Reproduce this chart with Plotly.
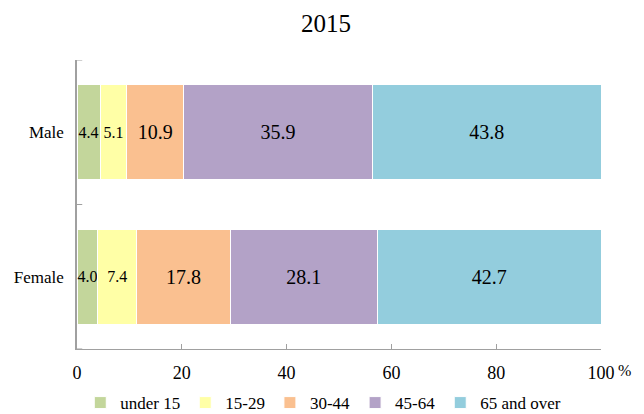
import plotly.graph_objects as go

categories = ["Female", "Male"]
age_groups = ["under 15", "15-29", "30-44", "45-64", "65 and over"]
male = [4.4, 5.1, 10.9, 35.9, 43.8]
female = [4.0, 7.4, 17.8, 28.1, 42.7]
colors = ["#c3d69b", "#ffffa6", "#fac090", "#b3a2c7", "#93cddd"]
x_ticks = [0, 20, 40, 60, 80, 100]

FONT = "Liberation Serif, Times New Roman, serif"

fig = go.Figure()
for i, g in enumerate(age_groups):
    vals = [female[i], male[i]]
    size = 16 if i < 2 else 20
    fig.add_trace(go.Bar(
        y=categories, x=vals, name=g, orientation="h",
        marker=dict(color=colors[i], line=dict(color="white", width=1)),
        text=[f"{v:.1f}" for v in vals], textposition="inside", textangle=0,
        insidetextanchor="middle", constraintext="none",
        textfont=dict(family=FONT, size=size, color="black"),
        width=0.66, hoverinfo="skip",
    ))

# page body has an 8px margin; figure is sized to compensate
fig.update_layout(
    barmode="stack",
    width=636, height=406,
    margin=dict(l=69, r=43, t=52, b=65, autoexpand=False),
    paper_bgcolor="white", plot_bgcolor="white",
    font=dict(family=FONT, color="black"),
    title=dict(text="2015", x=0.5, xanchor="center", y=0.962, yanchor="middle",
               font=dict(family=FONT, size=25, color="black")),
    showlegend=True,
    legend=dict(orientation="h", x=0.47, xanchor="center", y=-0.187, yanchor="middle",
                font=dict(family=FONT, size=17, color="black"), traceorder="normal",
                itemwidth=30),
    xaxis=dict(range=[0, 100], tickvals=x_ticks, ticks="inside", ticklen=5,
               tickcolor="#a0a0a0", showline=True, linecolor="#a0a0a0", linewidth=1,
               showgrid=False, zeroline=False, tickfont=dict(family=FONT, size=18),
               ticklabelstandoff=7),
    yaxis=dict(range=[-0.5, 1.5], showline=True, linecolor="#a0a0a0", linewidth=1.5,
               showgrid=False, zeroline=False, ticks="", tickfont=dict(family=FONT, size=17),
               ticklabelstandoff=8),
)

# category boundary ticks on the y axis
for yb in [-0.5, 0.5, 1.5]:
    fig.add_shape(type="line", xref="x", yref="y", x0=0, x1=1, y0=yb, y1=yb,
                  line=dict(color="#a0a0a0", width=1))

fig.add_annotation(text="%", xref="paper", yref="paper", x=1, y=0, xanchor="left",
                   yanchor="middle", xshift=15, yshift=-21, showarrow=False,
                   font=dict(family=FONT, size=16, color="black"))

fig.write_html("out.html")
